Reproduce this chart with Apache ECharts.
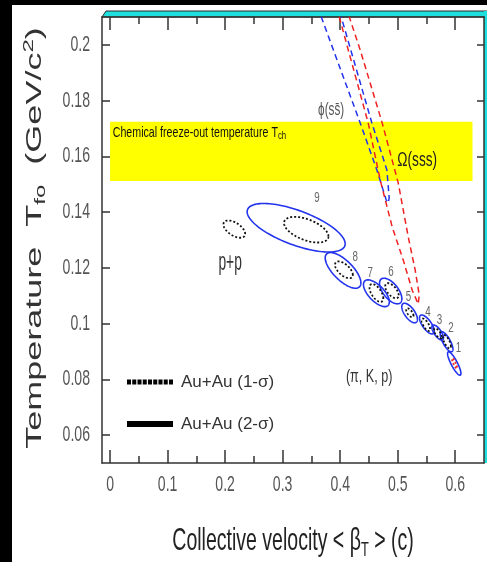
<!DOCTYPE html>
<html>
<head>
<meta charset="utf-8">
<title>Kinetic freeze-out temperature vs. collective velocity</title>
<script src="https://cdn.jsdelivr.net/npm/echarts@6.0.0/dist/echarts.min.js"></script>
<style>
  html, body { margin: 0; padding: 0; background: #000; }
  #chart { width: 487px; height: 562px; }
</style>
</head>
<body>
<div id="chart"></div>
<script>
// ---------- axes ----------
const xRange = [-0.014, 0.65];
const yRange = [0.05, 0.21];
const xMajorTicks = [0, 0.1, 0.2, 0.3, 0.4, 0.5, 0.6];
const xMinorTicks = [0.05, 0.15, 0.25, 0.35, 0.45, 0.55];
const xTickLabels = ['0', '0.1', '0.2', '0.3', '0.4', '0.5', '0.6'];
const yMajorTicks = [0.06, 0.08, 0.1, 0.12, 0.14, 0.16, 0.18, 0.2];
const yTickLabels = ['0.06', '0.08', '0.1', '0.12', '0.14', '0.16', '0.18', '0.2'];

// ---------- Au+Au centrality bins (1 = most central) ----------
const binNames = ['1', '2', '3', '4', '5', '6', '7', '8', '9'];
// 2-sigma contours: centre <beta_T>, centre T_fo, half-extent in beta, half-extent in T, correlation
const sig2Beta  = [0.5983, 0.585, 0.5695, 0.5507, 0.5207, 0.4878, 0.463, 0.405, 0.3235];
const sig2T     = [0.0857, 0.0935, 0.0968, 0.0997, 0.1038, 0.1117, 0.1109, 0.1191, 0.1344];
const sig2DBeta = [0.0116, 0.011, 0.0101, 0.0128, 0.0136, 0.0194, 0.0225, 0.031, 0.0852];
const sig2DT    = [0.0042, 0.0036, 0.0027, 0.0034, 0.0035, 0.0046, 0.0048, 0.0064, 0.0087];
const sig2Rho   = [-0.85, -0.75, -0.7, -0.7, -0.65, -0.6, -0.65, -0.7, -0.66];
// 1-sigma contours
const sig1Beta  = [0.5987, 0.5855, 0.570, 0.549, 0.5211, 0.490, 0.463, 0.4065, 0.341];
const sig1T     = [0.0858, 0.0935, 0.0965, 0.0996, 0.1039, 0.1118, 0.1110, 0.1193, 0.1337];
const sig1DBeta = [0.0044, 0.0070, 0.0067, 0.0073, 0.0064, 0.0117, 0.012, 0.0155, 0.0386];
const sig1DT    = [0.0018, 0.0024, 0.0018, 0.0022, 0.0016, 0.0027, 0.0032, 0.0030, 0.0046];
const sig1Rho   = [-0.85, -0.7, -0.7, -0.7, -0.65, -0.6, -0.6, -0.6, -0.52];
// bin number label anchors
const binLabelBeta = [0.6057, 0.5925, 0.5727, 0.5525, 0.5188, 0.4882, 0.4522, 0.4261, 0.3595];
const binLabelT    = [0.0912, 0.0984, 0.1013, 0.1042, 0.1095, 0.1185, 0.1182, 0.1239, 0.1451];

// ---------- p+p 1-sigma contour ----------
const ppContour = [0.216, 0.1339, 0.0189, 0.0031, -0.55];

// ---------- multi-strange hadron 1-sigma contours (open at the top) ----------
const phiContour = [
  [0.367, 0.2101], [0.4348, 0.172], [0.4638, 0.1551], [0.480, 0.1444], [0.4835, 0.1433],
  [0.4852, 0.1451], [0.4812, 0.1551], [0.4551, 0.172], [0.4017, 0.2101]
];
const omegaContour = [
  [0.3983, 0.2101], [0.4487, 0.172], [0.4696, 0.1515], [0.4904, 0.1347], [0.5096, 0.1228],
  [0.5252, 0.112], [0.5357, 0.107], [0.5374, 0.1103], [0.5304, 0.1192], [0.5183, 0.1311],
  [0.5009, 0.1505], [0.4730, 0.172], [0.4348, 0.1982], [0.4157, 0.2101]
];

// ---------- chemical freeze-out band: beta from, beta to, T low, T high ----------
const tchBand = [0, 0.63, 0.1512, 0.1724];

// ---------- annotations ----------
const noteText = ['p+p', '\u03D5(ss\u0304)', '\u03A9(sss)', '(\u03C0, K, p)'];
const noteBeta = [0.2087, 0.3843, 0.5339, 0.4504];
const noteT    = [0.1218, 0.1767, 0.1587, 0.0808];
const noteLook = [
  { size: 26, sx: 0.53, color: '#333' },
  { size: 18, sx: 0.65, color: '#555' },
  { size: 21, sx: 0.65, color: '#222' },
  { size: 18, sx: 0.7, color: '#333' }
];
const bandLabelAnchor = [0.0047, 0.1686];

const FONT = "'Liberation Sans', Arimo, Arial, Helvetica, sans-serif";
const BLUE = '#2233ee';
const RED = '#ee2222';

function contourRows(b, t, db, dt, r) {
  return b.map((_, i) => [b[i], t[i], db[i], dt[i], r[i]]);
}

// closed contour of a correlated 2-D region, traced in data space and mapped by the axes
function ellipseRenderer(strokeOf, lineWidth, lineDash) {
  return function (params, api) {
    const cb = api.value(0), ct = api.value(1), db = api.value(2), dt = api.value(3), rho = api.value(4);
    const q = Math.sqrt(1 - rho * rho);
    const pts = [];
    const n = 120;
    for (let i = 0; i < n; i++) {
      const a = (i / n) * Math.PI * 2;
      pts.push(api.coord([cb + db * Math.cos(a), ct + dt * (rho * Math.cos(a) + q * Math.sin(a))]));
    }
    return {
      type: 'polygon',
      shape: { points: pts },
      style: { fill: 'none', stroke: strokeOf(params.dataIndex), lineWidth: lineWidth, lineDash: lineDash }
    };
  };
}

function textSeries(rows, build) {
  return {
    type: 'custom',
    coordinateSystem: 'cartesian2d',
    silent: true,
    clip: false,
    z: 6,
    data: rows,
    encode: { x: 0, y: 1 },
    renderItem: function (params, api) {
      const p = api.coord([api.value(0), api.value(1)]);
      return build(params.dataIndex, p);
    }
  };
}

const sig1Stroke = binNames.map((_, i) => (i === 0 ? RED : '#111'));

const axisColor = '#333';
function xAxisDef(position, ticks, len, showLine) {
  return {
    type: 'value', position: position, min: xRange[0], max: xRange[1],
    axisLine: { show: showLine, onZero: false, lineStyle: { color: axisColor, width: 1.5 } },
    axisTick: { show: true, inside: true, length: len, customValues: ticks, lineStyle: { color: axisColor, width: 1.5 } },
    axisLabel: { show: false },
    splitLine: { show: false }
  };
}
function yAxisDef(position, len) {
  return {
    type: 'value', position: position, min: yRange[0], max: yRange[1],
    axisLine: { show: true, onZero: false, lineStyle: { color: axisColor, width: 1.5 } },
    axisTick: { show: true, inside: true, length: len, customValues: yMajorTicks, lineStyle: { color: axisColor, width: 1.5 } },
    axisLabel: { show: false },
    splitLine: { show: false }
  };
}

const dottedIcon = 'path://' + Array.from({ length: 9 }, (_, i) => 'M' + (i * 5.2) + ',0h4v5h-4z').join(' ');

const option = {
  backgroundColor: '#fff',
  animation: false,
  grid: { left: 102, right: 3, top: 17, bottom: 99 },
  xAxis: [
    xAxisDef('bottom', xMajorTicks, 13, true),
    xAxisDef('bottom', xMinorTicks, 7, false),
    xAxisDef('top', xMajorTicks, 13, true),
    xAxisDef('top', xMinorTicks, 7, false)
  ],
  yAxis: [yAxisDef('left', 8), yAxisDef('right', 7)],
  legend: {
    orient: 'vertical',
    left: 122, top: 366,
    itemWidth: 46, itemHeight: 6, itemGap: 20,
    selectedMode: false,
    data: [
      { name: 'Au+Au (1-\u03C3)', icon: dottedIcon, itemStyle: { color: '#000' } },
      { name: 'Au+Au (2-\u03C3)', icon: 'rect', itemStyle: { color: '#000' } }
    ],
    textStyle: { fontFamily: FONT, fontSize: 17, lineHeight: 22, color: '#333', padding: [0, 0, 0, 3] }
  },
  graphic: [
    { type: 'rect', shape: { x: 0, y: 0, width: 12, height: 562 }, style: { fill: '#000' }, silent: true },
    { type: 'rect', shape: { x: 0, y: 0, width: 487, height: 5 }, style: { fill: '#000' }, silent: true },
    { type: 'polygon', shape: { points: [[106, 11], [487, 11], [487, 17], [102, 17]] },
      style: { fill: '#1fdede', stroke: '#2a2a2a', lineWidth: 1 }, silent: true },
    { type: 'rect', shape: { x: 484, y: 11, width: 3, height: 452 }, style: { fill: '#1fdede' }, silent: true },
    {
      type: 'text', x: 35, y: 238, rotation: Math.PI / 2, scaleY: 0.63, silent: true,
      style: {
        text: '{a|Temperature  T}{s|fo}{a|  (GeV/c}{p|2}{a|)}',
        align: 'center', verticalAlign: 'middle',
        rich: {
          a: { fontFamily: FONT, fontSize: 36, lineHeight: 44, fill: '#333' },
          s: { fontFamily: FONT, fontSize: 24, lineHeight: 24, verticalAlign: 'bottom', fill: '#333' },
          p: { fontFamily: FONT, fontSize: 24, lineHeight: 24, verticalAlign: 'top', fill: '#333' }
        }
      }
    },
    {
      type: 'text', x: 293, y: 541, scaleX: 0.61, silent: true,
      style: {
        text: '{a|Collective velocity < \u03B2}{s|T}{a| > (c)}',
        align: 'center', verticalAlign: 'middle',
        rich: {
          a: { fontFamily: FONT, fontSize: 32, lineHeight: 40, fill: '#222' },
          s: { fontFamily: FONT, fontSize: 21, lineHeight: 21, verticalAlign: 'bottom', fill: '#222' }
        }
      }
    }
  ],
  series: [
    {
      name: 'T_ch',
      type: 'custom', coordinateSystem: 'cartesian2d', silent: true, z: 1,
      data: [tchBand],
      encode: { x: [0, 1], y: [2, 3] },
      renderItem: function (params, api) {
        const a = api.coord([api.value(0), api.value(3)]);
        const b = api.coord([api.value(1), api.value(2)]);
        return { type: 'rect', shape: { x: a[0], y: a[1], width: b[0] - a[0], height: b[1] - a[1] }, style: { fill: '#ffff00' } };
      }
    },
    {
      name: 'Au+Au (2-\u03C3)',
      type: 'custom', coordinateSystem: 'cartesian2d', silent: true, z: 3,
      itemStyle: { color: '#000' },
      data: contourRows(sig2Beta, sig2T, sig2DBeta, sig2DT, sig2Rho),
      encode: { x: 0, y: 1 },
      renderItem: ellipseRenderer(() => BLUE, 1.6, null)
    },
    {
      name: 'Au+Au (1-\u03C3)',
      type: 'custom', coordinateSystem: 'cartesian2d', silent: true, z: 3,
      itemStyle: { color: '#000' },
      data: contourRows(sig1Beta, sig1T, sig1DBeta, sig1DT, sig1Rho),
      encode: { x: 0, y: 1 },
      renderItem: ellipseRenderer(i => sig1Stroke[i], 1.8, [2, 2])
    },
    {
      name: 'p+p',
      type: 'custom', coordinateSystem: 'cartesian2d', silent: true, z: 3,
      data: [ppContour],
      encode: { x: 0, y: 1 },
      renderItem: ellipseRenderer(() => '#111', 1.8, [2, 2])
    },
    {
      name: '\u03D5(ss\u0304)',
      type: 'line', data: phiContour, showSymbol: false, clip: true, silent: true, z: 4,
      lineStyle: { color: BLUE, width: 1.5, type: [6, 4] }
    },
    {
      name: '\u03A9(sss)',
      type: 'line', data: omegaContour, showSymbol: false, clip: true, silent: true, z: 4,
      lineStyle: { color: RED, width: 1.5, type: [6, 4] }
    },
    textSeries(binNames.map((_, i) => [binLabelBeta[i], binLabelT[i]]), function (i, p) {
      return { type: 'text', x: p[0], y: p[1], scaleX: 0.65,
        style: { text: binNames[i], fontFamily: FONT, fontSize: 15, fill: '#666', align: 'center', verticalAlign: 'middle' } };
    }),
    textSeries(noteText.map((_, i) => [noteBeta[i], noteT[i]]), function (i, p) {
      const look = noteLook[i];
      return { type: 'text', x: p[0], y: p[1], scaleX: look.sx,
        style: { text: noteText[i], fontFamily: FONT, fontSize: look.size, fill: look.color, align: 'center', verticalAlign: 'middle' } };
    }),
    textSeries([bandLabelAnchor], function (i, p) {
      return { type: 'text', x: p[0], y: p[1], scaleX: 0.71,
        style: {
          text: '{a|Chemical freeze-out temperature T}{s|ch}',
          align: 'left', verticalAlign: 'middle',
          rich: {
            a: { fontFamily: FONT, fontSize: 15, lineHeight: 18, fill: '#111' },
            s: { fontFamily: FONT, fontSize: 11, lineHeight: 11, verticalAlign: 'bottom', fill: '#111' }
          }
        } };
    }),
    textSeries(xMajorTicks.map(v => [v, yRange[0]]), function (i, p) {
      return { type: 'text', x: p[0], y: p[1] + 11, scaleX: 0.64,
        style: { text: xTickLabels[i], fontFamily: FONT, fontSize: 22, fill: '#555', align: 'center', verticalAlign: 'top' } };
    }),
    textSeries(yMajorTicks.map(v => [xRange[0], v]), function (i, p) {
      return { type: 'text', x: p[0] - 12, y: p[1], scaleX: 0.64,
        style: { text: yTickLabels[i], fontFamily: FONT, fontSize: 22, fill: '#555', align: 'right', verticalAlign: 'middle' } };
    })
  ]
};

const chart = echarts.init(document.getElementById('chart'));
chart.setOption(option);
</script>
</body>
</html>
